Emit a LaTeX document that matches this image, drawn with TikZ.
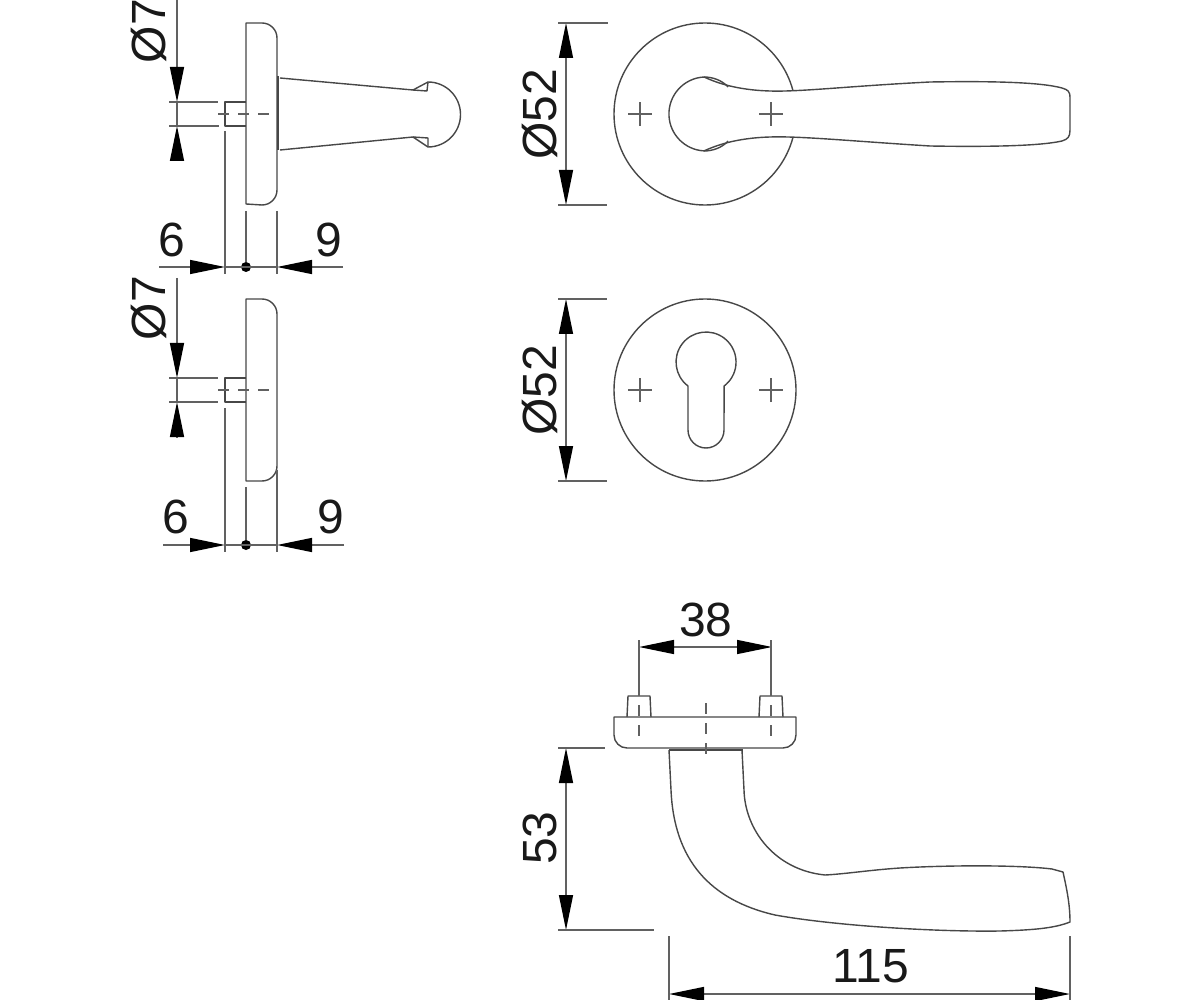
\documentclass[tikz,border=0pt]{standalone}
\usepackage{fontspec}
\setmainfont{Liberation Sans}
\usetikzlibrary{arrows.meta}
\begin{document}
\begin{tikzpicture}[x=0.5pt,y=0.5pt,>={Triangle[length=17.5pt,width=7pt,color=black]},
outline/.style={draw=black!72,line width=0.7pt,line join=round},
dimline/.style={draw=black!62,line width=0.7pt},
centerdash/.style={draw=black!62,line width=0.65pt,dash pattern=on 5.5pt off 4.5pt},
label/.style={font=\fontsize{24}{24}\selectfont,inner sep=0pt,text=black!90}]
\tikzstyle{every edge}=[dimline]

\useasboundingbox (0,-1000) rectangle (1200,0);

% rose with handle, side view
\draw[outline] (246,-204) -- (246,-23) -- (262,-23) arc[start angle=90,end angle=0,radius=15] -- (277,-190) arc[start angle=0,end angle=-90,radius=15] -- cycle;
\draw[outline] (246,-102) -- (225,-102) -- (225,-126) -- (246,-126);
\draw[outline,line width=1.2pt] (278,-76) -- (278,-150);
\draw[outline] (280,-78) -- (413,-90) -- (428,-82) arc[start angle=90,end angle=-90,radius=32.5] -- (413,-137) -- (280,-150);
\draw[outline] (413,-90) -- (427,-91) -- (428,-82);
\draw[outline] (413,-137) -- (428,-138) -- (428,-147);
\draw[centerdash] (218,-114) -- (272,-114);

\coordinate (a1) at (177,0);
\coordinate (a2) at (177,-102);
\coordinate (a3) at (177,-126);
\coordinate (a4) at (177,-160);
\node[label,rotate=90] (sideDia) at (149,-31) {Ø7};
\path[->] (a1) edge (a2) (a4) edge (a3);
\path (a2) edge (a3);
\path (169,-102) edge (218,-102) (169,-126) edge (219,-126);

\coordinate (b1) at (159,-267);
\coordinate (b2) at (225,-267);
\coordinate (b3) at (277,-267);
\coordinate (b4) at (343,-267);
\node[circle,fill=black,inner sep=0pt,minimum size=5pt] (bDot) at (246,-267) {};
\node[label] (bSix) at (172,-240) {6};
\node[label] (bNine) at (329,-240) {9};
\path[->] (b1) edge (b2) (b4) edge (b3);
\path (b2) edge (b3);
\path (225,-131) edge (225,-274) (246,-211) edge (bDot) (277,-211) edge (277,-274);

% rose for cylinder, side view
\draw[outline] (246,-481) -- (246,-299) -- (262,-299) arc[start angle=90,end angle=0,radius=15] -- (277,-466) arc[start angle=0,end angle=-90,radius=15] -- cycle;
\draw[outline] (246,-378) -- (225,-378) -- (225,-402) -- (246,-402);
\draw[centerdash] (218,-390) -- (272,-390);

\coordinate (c1) at (177,-278);
\coordinate (c2) at (177,-378);
\coordinate (c3) at (177,-402);
\coordinate (c4) at (177,-437);
\node[label,rotate=90] (lowDia) at (149,-308) {Ø7};
\path[->] (c1) edge (c2) (c4) edge (c3);
\path (c2) edge (c3);
\path (169,-378) edge (218,-378) (169,-402) edge (218,-402);

\coordinate (d1) at (163,-545);
\coordinate (d2) at (225,-545);
\coordinate (d3) at (277,-545);
\coordinate (d4) at (344,-545);
\node[circle,fill=black,inner sep=0pt,minimum size=5pt] (dDot) at (246,-545) {};
\node[label] (dSix) at (176,-517) {6};
\node[label] (dNine) at (331,-517) {9};
\path[->] (d1) edge (d2) (d4) edge (d3);
\path (d2) edge (d3);
\path (225,-408) edge (225,-552) (246,-487) edge (dDot) (277,-470) edge (277,-552);

% rose with handle, front view
\draw[outline] (705,-114) circle[radius=91];
\draw[outline,fill=white] (704,-77) arc[start angle=93,end angle=267,radius=37]
  .. controls (715,-146) and (735,-138) .. (770,-137)
  .. controls (800,-136) and (850,-141) .. (930,-146)
  .. controls (990,-147) and (1040,-146) .. (1062,-141)
  .. controls (1068,-139) and (1070,-137) .. (1070,-130) -- (1070,-98)
  .. controls (1070,-91) and (1068,-90) .. (1062,-88)
  .. controls (1040,-82) and (990,-81) .. (930,-82)
  .. controls (850,-86) and (800,-92) .. (770,-91)
  .. controls (735,-90) and (715,-82) .. (704,-77);
\draw[outline] (704,-77) .. controls (712,-77) and (722,-80) .. (728,-87);
\draw[outline] (704,-151) .. controls (712,-151) and (722,-148) .. (728,-141);
\foreach \cx/\cy in {640/-114,771/-114,640/-390,771/-390}
  \draw[dimline] (\cx-12,\cy) -- (\cx+12,\cy) (\cx,\cy-12) -- (\cx,\cy+12);

\coordinate (e1) at (566,-23);
\coordinate (e2) at (566,-205);
\node[label,rotate=90] (frontDia) at (540,-114) {Ø52};
\path[<->] (e1) edge (e2);
\path (558,-23) edge (608,-23) (558,-205) edge (607,-205);

% rose for cylinder, front view
\draw[outline] (705,-390) circle[radius=91];
\draw[outline] (688,-386) arc[start angle=233,end angle=-53,radius=30] -- (724,-430) arc[start angle=0,end angle=-180,radius=18] -- cycle;

\coordinate (f1) at (566,-299);
\coordinate (f2) at (566,-481);
\node[label,rotate=90] (cylDia) at (540,-390) {Ø52};
\path[<->] (f1) edge (f2);
\path (558,-299) edge (607,-299) (558,-481) edge (607,-481);

% handle, top view
\draw[outline] (614,-717) -- (796,-717) -- (796,-735) arc[start angle=0,end angle=-90,radius=13] -- (627,-748) arc[start angle=-90,end angle=-180,radius=13] -- cycle;
\draw[outline] (627,-717) -- (628,-696) -- (650,-696) -- (651,-717);
\draw[outline] (759,-717) -- (760,-696) -- (782,-696) -- (783,-717);
\draw[outline,line width=1.2pt] (669,-750) -- (743,-750);
\draw[outline] (669,-750) -- (671,-790)
  .. controls (674,-860) and (710,-900) .. (775,-915)
  .. controls (830,-925) and (930,-932) .. (1000,-931)
  .. controls (1035,-930) and (1055,-928) .. (1070,-922)
  .. controls (1070,-905) and (1067,-890) .. (1063,-872) -- (1052,-869)
  .. controls (1020,-865) and (950,-865) .. (900,-868)
  .. controls (870,-870) and (845,-874) .. (825,-875)
  .. controls (775,-870) and (745,-830) .. (744,-790) -- (742,-750);
\draw[centerdash] (639,-685) -- (639,-742);
\draw[centerdash] (771,-685) -- (771,-742);
\draw[centerdash] (706,-703) -- (706,-759);

\coordinate (g1) at (639,-647);
\coordinate (g2) at (772,-647);
\node[label] (topDist) at (706,-620) {38};
\path[<->] (g1) edge (g2);
\path (639,-640) edge (639,-687) (771,-640) edge (771,-687);

\coordinate (h1) at (566,-748);
\coordinate (h2) at (566,-930);
\node[label,rotate=90] (heightDim) at (540,-838) {53};
\path[<->] (h1) edge (h2);
\path (558,-748) edge (605,-748) (558,-930) edge (654,-930);

\coordinate (j1) at (669,-994);
\coordinate (j2) at (1070,-994);
\node[label] (lengthDim) at (871,-966) {115};
\path[<->] (j1) edge (j2);
\path (669,-936) edge (669,-1000) (1070,-936) edge (1070,-1000);
\end{tikzpicture}
\end{document}
